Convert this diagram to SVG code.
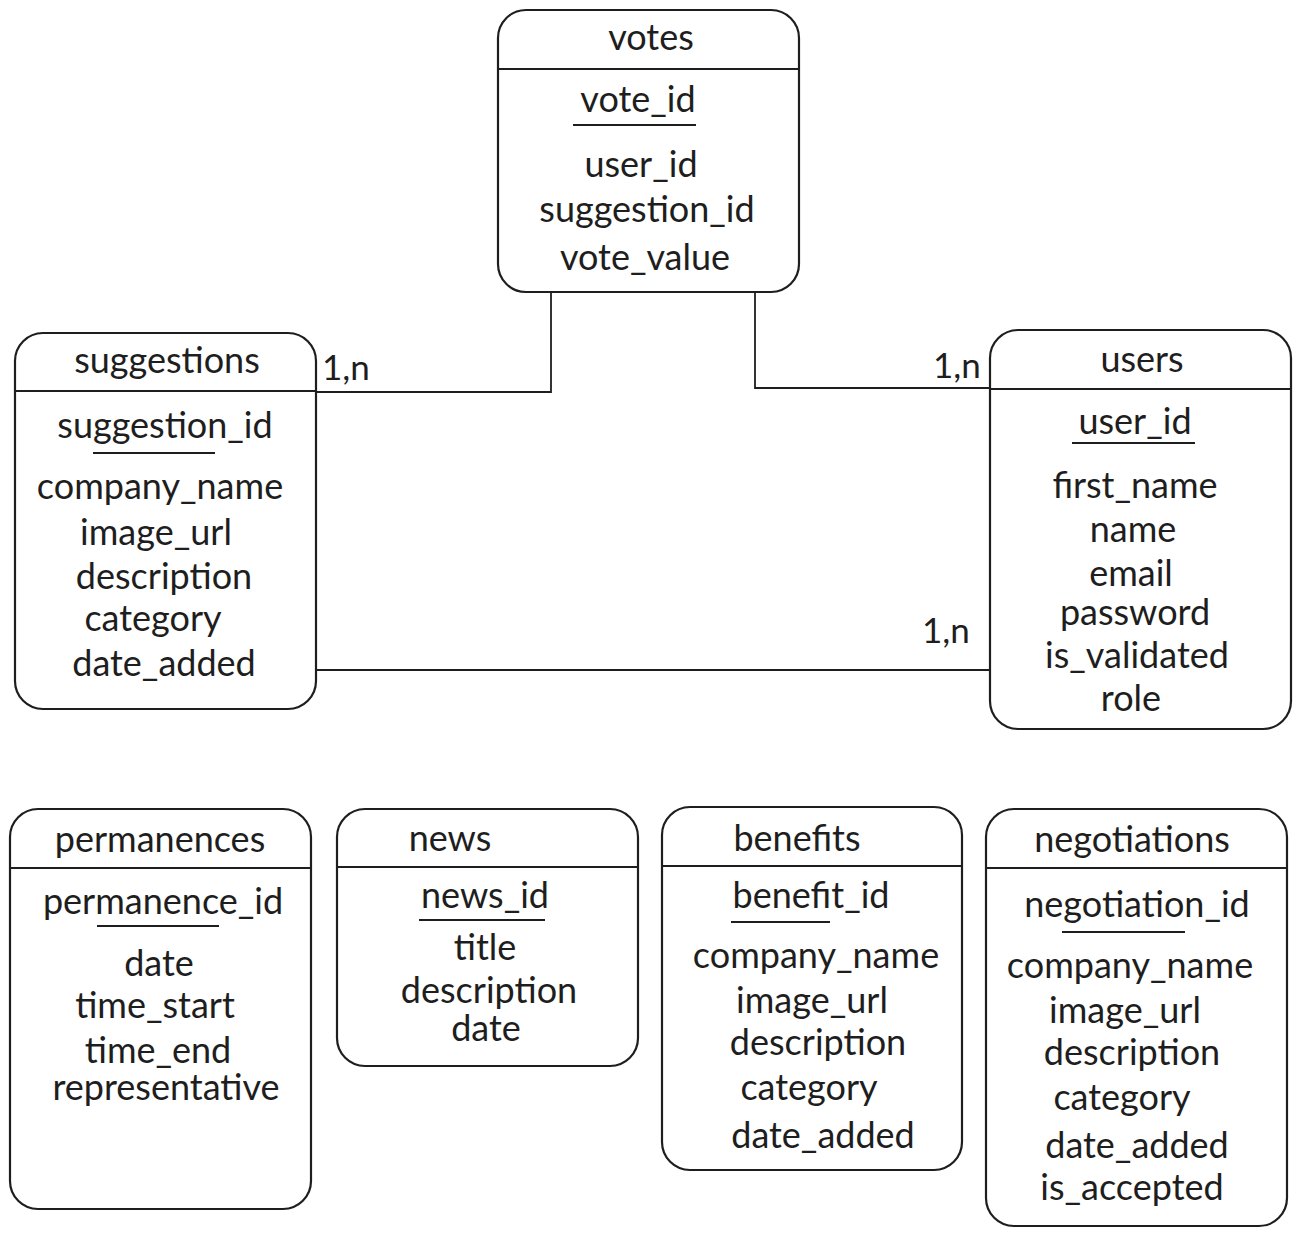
<svg xmlns="http://www.w3.org/2000/svg" width="1300" height="1236" viewBox="0 0 1300 1236">
<style>
.box{fill:#fff;stroke:#1e1e1e;stroke-width:2.2}
.ln{stroke:#1e1e1e;stroke-width:1.8;fill:none}
text{font-family:Lato,"Noto Sans",sans-serif;font-size:36px;fill:#1e1e1e;text-anchor:middle}
.card{text-anchor:start;font-size:35px}
</style>
<rect width="1300" height="1236" fill="#fff"/>
<g id="connectors">
<path class="ln" d="M551 292 V392 H316"/>
<path class="ln" d="M755 292 V388 H990"/>
<path class="ln" d="M316 670 H990"/>
<text class="card" x="322" y="380">1,n</text>
<text class="card" x="933" y="378">1,n</text>
<text class="card" x="922" y="643">1,n</text>
</g>
<g id="votes">
<rect class="box" x="498" y="10" width="301" height="282" rx="28"/>
<line class="ln" x1="498" y1="69" x2="799" y2="69"/>
<text x="651" y="50">votes</text>
<text x="638" y="112">vote_id</text>
<line class="ln" x1="573" y1="125" x2="696" y2="125"/>
<text x="641" y="177">user_id</text>
<text x="647" y="222">suggestion_id</text>
<text x="645" y="270">vote_value</text>
</g>
<g id="suggestions">
<rect class="box" x="15" y="333" width="301" height="376" rx="28"/>
<line class="ln" x1="15" y1="391" x2="316" y2="391"/>
<text x="167" y="373">suggestions</text>
<text x="165" y="438">suggestion_id</text>
<line class="ln" x1="93" y1="453" x2="215" y2="453"/>
<text x="160" y="499">company_name</text>
<text x="156" y="545">image_url</text>
<text x="164" y="589">description</text>
<text x="153" y="631">category</text>
<text x="164" y="676">date_added</text>
</g>
<g id="users">
<rect class="box" x="990" y="330" width="301" height="399" rx="28"/>
<line class="ln" x1="990" y1="389" x2="1291" y2="389"/>
<text x="1142" y="372">users</text>
<text x="1135" y="434">user_id</text>
<line class="ln" x1="1072" y1="443" x2="1195" y2="443"/>
<text x="1135" y="498">first_name</text>
<text x="1133" y="542">name</text>
<text x="1131" y="586">email</text>
<text x="1135" y="625">password</text>
<text x="1137" y="668">is_validated</text>
<text x="1131" y="711">role</text>
</g>
<g id="permanences">
<rect class="box" x="10" y="809" width="301" height="400" rx="28"/>
<line class="ln" x1="10" y1="868" x2="311" y2="868"/>
<text x="160" y="852">permanences</text>
<text x="163" y="914">permanence_id</text>
<line class="ln" x1="97" y1="926" x2="219" y2="926"/>
<text x="159" y="976">date</text>
<text x="155" y="1018">time_start</text>
<text x="158" y="1063">time_end</text>
<text x="166" y="1100">representative</text>
</g>
<g id="news">
<rect class="box" x="337" y="809" width="301" height="257" rx="28"/>
<line class="ln" x1="337" y1="867" x2="638" y2="867"/>
<text x="450" y="851">news</text>
<text x="485" y="908">news_id</text>
<line class="ln" x1="419" y1="920" x2="545" y2="920"/>
<text x="485" y="960">title</text>
<text x="489" y="1003">description</text>
<text x="486" y="1041">date</text>
</g>
<g id="benefits">
<rect class="box" x="662" y="807" width="300" height="363" rx="28"/>
<line class="ln" x1="662" y1="866" x2="962" y2="866"/>
<text x="797" y="851">benefits</text>
<text x="811" y="908">benefit_id</text>
<line class="ln" x1="731" y1="922" x2="830" y2="922"/>
<text x="816" y="968">company_name</text>
<text x="812" y="1013">image_url</text>
<text x="818" y="1055">description</text>
<text x="809" y="1100">category</text>
<text x="823" y="1148">date_added</text>
</g>
<g id="negotiations">
<rect class="box" x="986" y="809" width="301" height="417" rx="28"/>
<line class="ln" x1="986" y1="868" x2="1287" y2="868"/>
<text x="1132" y="852">negotiations</text>
<text x="1137" y="917">negotiation_id</text>
<line class="ln" x1="1062" y1="932" x2="1185" y2="932"/>
<text x="1130" y="978">company_name</text>
<text x="1125" y="1023">image_url</text>
<text x="1132" y="1065">description</text>
<text x="1122" y="1110">category</text>
<text x="1137" y="1158">date_added</text>
<text x="1132" y="1200">is_accepted</text>
</g>
</svg>
